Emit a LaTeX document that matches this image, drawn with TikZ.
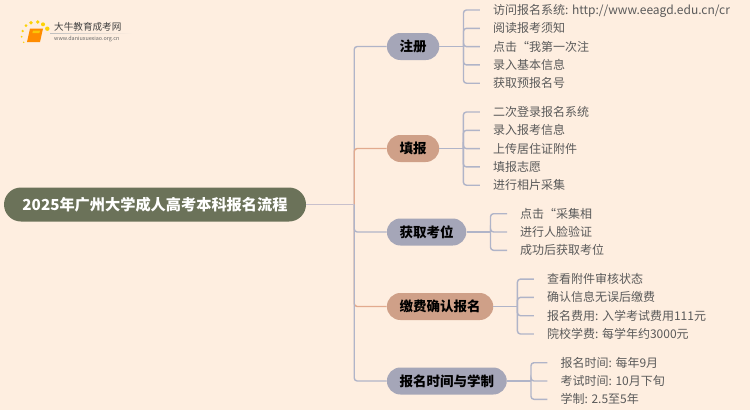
\documentclass[tikz,border=0pt]{standalone}
\usepackage{fontspec}
\setmainfont{Noto Sans CJK SC}
\usepackage{tikz}
\usetikzlibrary{positioning,shapes.misc}

\definecolor{paper}{HTML}{FEEEE0}
\definecolor{rootgreen}{HTML}{6B7259}
\definecolor{pillblue}{HTML}{A5A6B8}
\definecolor{pillorange}{HTML}{CFA088}
\definecolor{lineblue}{HTML}{B0B4C8}
\definecolor{lineorange}{HTML}{E2AA8E}
\definecolor{linepale}{HTML}{C8C0CC}
\definecolor{leaftext}{HTML}{5A5A5A}

\tikzset{
  pill/.style={shape=rounded rectangle, inner xsep=11pt, inner ysep=0pt, minimum height=27pt,
    font=\fontsize{13.5}{15}\selectfont\bfseries, text=black},
  bluepill/.style={pill, fill=pillblue},
  orangepill/.style={pill, fill=pillorange},
  leaf/.style={inner xsep=13pt, inner ysep=0pt, text height=10.5pt, text depth=1.5pt,
    font=\fontsize{12}{14}\selectfont, text=leaftext, anchor=west},
  bluelink/.style={draw=lineblue, line width=1.4pt, rounded corners=3pt},
  orangelink/.style={draw=lineorange, line width=1.4pt, rounded corners=3pt}
}

\begin{document}
\begin{tikzpicture}[x=1pt, y=-1pt]
      \fill[paper] (0,0) rectangle (750,410);
      \useasboundingbox (0,0) rectangle (750,410);

      % logo
      \foreach \px/\py/\pr in {26/25.7/1.5, 31/22.7/1.8, 37.7/22/1.9, 43/24.3/2, 47.3/28.7/2.2, 22.7/31/1.3, 21.7/36.7/1, 23.7/42.3/.8}
        \fill[yellow!70!orange] (\px,\py) circle (\pr);
      \fill[orange!90!yellow] (30,28.5) -- (43,28.5) -- (40,42) -- (27,42) -- cycle;
      \fill[yellow!60!orange] (33,30.5) -- (40,30.5) -- (39.4,33) -- (32.4,33) -- cycle;
      \shade[left color=black!25, right color=paper] (50,33.2) rectangle (132,33.9);
      \node[inner sep=0pt, anchor=west, font=\fontsize{9.6}{11}\selectfont, text=black!75] (LogoName) at (54,27) {大牛教育成考网};
      \node[inner sep=0pt, anchor=west, font=\fontsize{5.4}{7}\selectfont, text=black!60] (LogoUrl)
           [below=12pt of LogoName.west, anchor=west] {www.daniuxuexiao.org.cn};

      % root and trunk
      \node[shape=rounded rectangle, fill=rootgreen, text=white, minimum width=302pt, minimum height=34pt,
            inner sep=0pt, font=\fontsize{15.2}{17}\selectfont\bfseries] (Root) at (155,204.5) {2025年广州大学成人高考本科报名流程};
      \coordinate[right=48pt of Root] (Trunk);

      % branches
      \node[bluepill] (Reg) [right=32.5pt of Trunk, yshift=158pt, anchor=west] {注册};
      \node[orangepill] (Fill) [below=102pt of Reg.west, anchor=west] {填报};
      \node[bluepill] (Seat) [below=83.5pt of Fill.west, anchor=west] {获取考位};
      \node[orangepill] (Pay) [below=74.5pt of Seat.west, anchor=west] {缴费确认报名};
      \node[bluepill] (Time) [below=74.5pt of Pay.west, anchor=west] {报名时间与学制};

      % leaves of Reg
      \coordinate[right=24pt of Reg.east] (RegFork);
      \node[leaf] (RegA) [right=40.5pt of Reg.east, yshift=36.5pt, anchor=west] {访问报名系统: http://www.eeagd.edu.cn/cr};
      \node[leaf] (RegB) [below=18.3pt of RegA.west, anchor=west] {阅读报考须知};
      \node[leaf] (RegC) [below=18.3pt of RegB.west, anchor=west] {点击“我第一次注};
      \node[leaf] (RegD) [below=18.3pt of RegC.west, anchor=west] {录入基本信息};
      \node[leaf] (RegE) [below=18.3pt of RegD.west, anchor=west] {获取预报名号};

      % leaves of Fill
      \coordinate[right=24pt of Fill.east] (FillFork);
      \node[leaf] (FillA) [right=40.5pt of Fill.east, yshift=36.5pt, anchor=west] {二次登录报名系统};
      \node[leaf] (FillB) [below=18.3pt of FillA.west, anchor=west] {录入报考信息};
      \node[leaf] (FillC) [below=18.3pt of FillB.west, anchor=west] {上传居住证附件};
      \node[leaf] (FillD) [below=18.3pt of FillC.west, anchor=west] {填报志愿};
      \node[leaf] (FillE) [below=18.3pt of FillD.west, anchor=west] {进行相片采集};

      % leaves of Seat
      \coordinate[right=24pt of Seat.east] (SeatFork);
      \node[leaf] (SeatA) [right=40.5pt of Seat.east, yshift=18.3pt, anchor=west] {点击“采集相};
      \node[leaf] (SeatB) [below=18.3pt of SeatA.west, anchor=west] {进行人脸验证};
      \node[leaf] (SeatC) [below=18.3pt of SeatB.west, anchor=west] {成功后获取考位};

      % leaves of Pay
      \coordinate[right=24pt of Pay.east] (PayFork);
      \node[leaf] (PayA) [right=40.5pt of Pay.east, yshift=27.4pt, anchor=west] {查看附件审核状态};
      \node[leaf] (PayB) [below=18.3pt of PayA.west, anchor=west] {确认信息无误后缴费};
      \node[leaf] (PayC) [below=18.3pt of PayB.west, anchor=west] {报名费用: 入学考试费用111元};
      \node[leaf] (PayD) [below=18.3pt of PayC.west, anchor=west] {院校学费: 每学年约3000元};

      % leaves of Time
      \coordinate[right=24pt of Time.east] (TimeFork);
      \node[leaf] (TimeA) [right=40.5pt of Time.east, yshift=18.3pt, anchor=west] {报名时间: 每年9月};
      \node[leaf] (TimeB) [below=18.3pt of TimeA.west, anchor=west] {考试时间: 10月下旬};
      \node[leaf] (TimeC) [below=18.3pt of TimeB.west, anchor=west] {学制: 2.5至5年};

      % connectors
      \path[bluelink] (Trunk) |- (Reg.west);
      \path[orangelink] (Trunk) |- (Fill.west);
      \path[orangelink] (Trunk) |- (Pay.west);
      \path[bluelink] (Trunk) |- (Seat.west);
      \path[bluelink] (Trunk) |- (Time.west);
      \path[bluelink, draw=linepale] (Root.east) -- (Trunk);
      \foreach \branch/\leaves in {Reg/{RegA,RegB,RegC,RegD,RegE}, Fill/{FillA,FillB,FillC,FillD,FillE},
                                   Seat/{SeatA,SeatB,SeatC}, Pay/{PayA,PayB,PayC,PayD}, Time/{TimeA,TimeB,TimeC}} {
        \path[bluelink] (\branch.east) -- (\branch Fork);
        \foreach \item in \leaves
          \path[bluelink] (\branch Fork) |- (\item.west);
      }
     \end{tikzpicture}
\end{document}
